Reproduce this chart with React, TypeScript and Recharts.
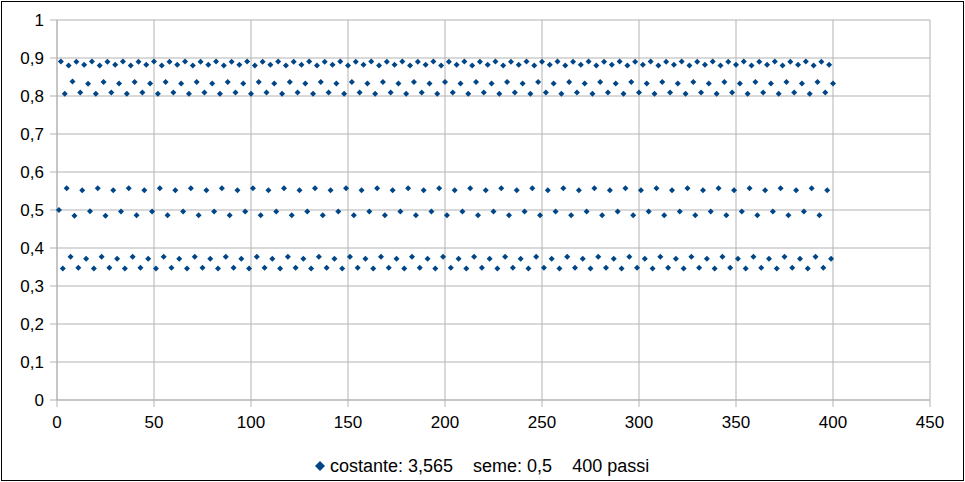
import React from 'react';
import { ScatterChart, Scatter, XAxis, YAxis, CartesianGrid } from 'recharts';

const seriesName = 'costante: 3,565    seme: 0,5    400 passi';

const xTicks = [0, 50, 100, 150, 200, 250, 300, 350, 400, 450];
const yTicks = [0, 0.1, 0.2, 0.3, 0.4, 0.5, 0.6, 0.7, 0.8, 0.9, 1];

// values of the 400 steps (step 1 .. 400)
const values = [
  0.5, 0.891, 0.346, 0.806, 0.557, 0.88, 0.377, 0.838, 0.485, 0.89, 0.348, 0.809, 0.552, 0.882, 0.372, 0.832,
  0.497, 0.891, 0.346, 0.806, 0.557, 0.88, 0.377, 0.837, 0.485, 0.89, 0.348, 0.809, 0.552, 0.882, 0.372, 0.833,
  0.496, 0.891, 0.346, 0.806, 0.557, 0.88, 0.377, 0.837, 0.486, 0.89, 0.348, 0.809, 0.552, 0.882, 0.372, 0.833,
  0.496, 0.891, 0.346, 0.806, 0.557, 0.88, 0.377, 0.837, 0.486, 0.89, 0.348, 0.809, 0.552, 0.882, 0.372, 0.833,
  0.496, 0.891, 0.346, 0.806, 0.557, 0.88, 0.377, 0.837, 0.486, 0.89, 0.348, 0.809, 0.552, 0.882, 0.372, 0.833,
  0.496, 0.891, 0.346, 0.806, 0.557, 0.88, 0.377, 0.837, 0.486, 0.89, 0.348, 0.809, 0.552, 0.882, 0.372, 0.833,
  0.496, 0.891, 0.346, 0.806, 0.557, 0.88, 0.377, 0.837, 0.486, 0.89, 0.348, 0.809, 0.552, 0.882, 0.372, 0.833,
  0.496, 0.891, 0.346, 0.806, 0.557, 0.88, 0.377, 0.837, 0.486, 0.89, 0.348, 0.809, 0.552, 0.882, 0.372, 0.833,
  0.496, 0.891, 0.346, 0.806, 0.557, 0.88, 0.377, 0.837, 0.486, 0.89, 0.348, 0.809, 0.552, 0.882, 0.372, 0.833,
  0.496, 0.891, 0.346, 0.806, 0.557, 0.88, 0.377, 0.837, 0.486, 0.89, 0.348, 0.809, 0.552, 0.882, 0.372, 0.833,
  0.496, 0.891, 0.346, 0.806, 0.557, 0.88, 0.377, 0.837, 0.486, 0.89, 0.348, 0.809, 0.552, 0.882, 0.372, 0.833,
  0.496, 0.891, 0.346, 0.806, 0.557, 0.88, 0.377, 0.837, 0.486, 0.89, 0.348, 0.809, 0.552, 0.882, 0.372, 0.833,
  0.496, 0.891, 0.346, 0.806, 0.557, 0.88, 0.377, 0.837, 0.486, 0.89, 0.348, 0.809, 0.552, 0.882, 0.372, 0.833,
  0.496, 0.891, 0.346, 0.806, 0.557, 0.88, 0.377, 0.837, 0.486, 0.89, 0.348, 0.809, 0.552, 0.882, 0.372, 0.833,
  0.496, 0.891, 0.346, 0.806, 0.557, 0.88, 0.377, 0.837, 0.486, 0.89, 0.348, 0.809, 0.552, 0.882, 0.372, 0.833,
  0.496, 0.891, 0.346, 0.806, 0.557, 0.88, 0.377, 0.837, 0.486, 0.89, 0.348, 0.809, 0.552, 0.882, 0.372, 0.833,
  0.496, 0.891, 0.346, 0.806, 0.557, 0.88, 0.377, 0.837, 0.486, 0.89, 0.348, 0.809, 0.552, 0.882, 0.372, 0.833,
  0.496, 0.891, 0.346, 0.806, 0.557, 0.88, 0.377, 0.837, 0.486, 0.89, 0.348, 0.809, 0.552, 0.882, 0.372, 0.833,
  0.496, 0.891, 0.346, 0.806, 0.557, 0.88, 0.377, 0.837, 0.486, 0.89, 0.348, 0.809, 0.552, 0.882, 0.372, 0.833,
  0.496, 0.891, 0.346, 0.806, 0.557, 0.88, 0.377, 0.837, 0.486, 0.89, 0.348, 0.809, 0.552, 0.882, 0.372, 0.833,
  0.496, 0.891, 0.346, 0.806, 0.557, 0.88, 0.377, 0.837, 0.486, 0.89, 0.348, 0.809, 0.552, 0.882, 0.372, 0.833,
  0.496, 0.891, 0.346, 0.806, 0.557, 0.88, 0.377, 0.837, 0.486, 0.89, 0.348, 0.809, 0.552, 0.882, 0.372, 0.833,
  0.496, 0.891, 0.346, 0.806, 0.557, 0.88, 0.377, 0.837, 0.486, 0.89, 0.348, 0.809, 0.552, 0.882, 0.372, 0.833,
  0.496, 0.891, 0.346, 0.806, 0.557, 0.88, 0.377, 0.837, 0.486, 0.89, 0.348, 0.809, 0.552, 0.882, 0.372, 0.833,
  0.496, 0.891, 0.346, 0.806, 0.557, 0.88, 0.377, 0.837, 0.486, 0.89, 0.348, 0.809, 0.552, 0.882, 0.372, 0.833,
];

const data = values.map((v, i) => ({ step: i + 1, value: v }));

const COLOR = '#004586';
const GRID = '#b3b3b3';
const FONT = '"Liberation Sans", Arial, sans-serif';

const Diamond = (props: any) => {
  const { cx, cy } = props;
  if (cx == null || cy == null) return null;
  const r = 3;
  return (
    <polygon
      points={`${cx},${cy - r} ${cx + r},${cy} ${cx},${cy + r} ${cx - r},${cy}`}
      fill={COLOR}
    />
  );
};

const fmt = (v: number) => String(v).replace('.', ',');

export default function App() {
  return (
    <div style={{ position: 'absolute', left: 0, top: 0, width: 965, height: 482, background: '#fff' }}>
      <ScatterChart
        width={965}
        height={482}
        margin={{ top: 20, right: 35, left: 0, bottom: 0 }}
      >
        <CartesianGrid stroke={GRID} strokeWidth={1} />
        <XAxis
          type="number"
          dataKey="step"
          domain={[0, 450]}
          ticks={xTicks}
          interval={0}
          height={82}
          tickSize={7}
          tickMargin={9}
          stroke={GRID}
          tick={{ fill: '#000', fontSize: 17, fontFamily: FONT }}
          axisLine={{ stroke: GRID }}
          tickLine={{ stroke: GRID }}
        />
        <YAxis
          type="number"
          dataKey="value"
          domain={[0, 1]}
          ticks={yTicks}
          interval={0}
          width={57}
          tickSize={7}
          tickMargin={6}
          tickFormatter={fmt}
          tick={{ fill: '#000', fontSize: 17, fontFamily: FONT }}
          axisLine={{ stroke: GRID }}
          tickLine={{ stroke: GRID }}
        />
        <Scatter
          data={data}
          fill={COLOR}
          shape={Diamond}
          isAnimationActive={false}
        />
      </ScatterChart>
      <svg
        width={12}
        height={12}
        style={{ position: 'absolute', left: 314, top: 460 }}
      >
        <polygon points="6,1 11,6 6,11 1,6" fill={COLOR} />
      </svg>
      <div
        style={{
          position: 'absolute',
          left: 330,
          top: 456,
          fontFamily: FONT,
          fontSize: 18,
          lineHeight: '21px',
          color: '#000',
          whiteSpace: 'pre',
        }}
      >
        {seriesName}
      </div>
      <div
        style={{
          position: 'absolute',
          left: 1,
          top: 1,
          width: 963,
          height: 480,
          border: '1px solid #000',
          boxSizing: 'border-box',
          pointerEvents: 'none',
        }}
      />
    </div>
  );
}
